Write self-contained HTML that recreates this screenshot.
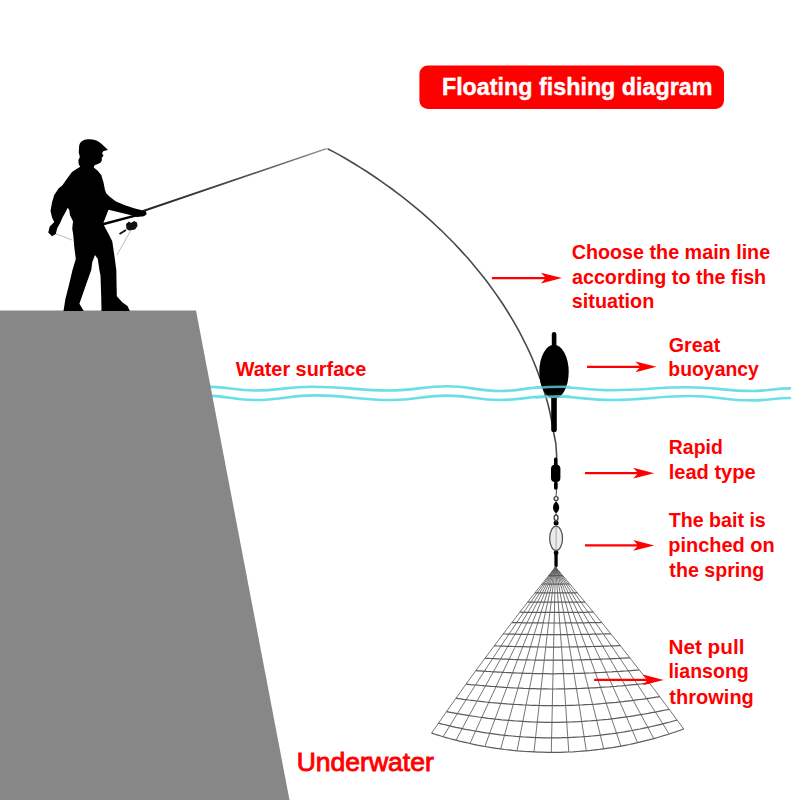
<!DOCTYPE html>
<html><head><meta charset="utf-8">
<style>
html,body{margin:0;padding:0;background:#fff;}
body{width:800px;height:800px;overflow:hidden;position:relative;}
svg{position:absolute;left:0;top:0;}
text{font-family:"Liberation Sans",sans-serif;font-weight:bold;}
</style></head><body>
<svg width="800" height="800" viewBox="0 0 800 800">
<rect width="800" height="800" fill="#fff"/>
<!-- water lines -->
<g fill="none" stroke="#6adfe8" stroke-width="2.6" stroke-linecap="round">
<path d="M205 386.6 C226.0 386.6 234.0 390.5 255 390.5 C278.9 390.5 288.1 386.7 312 386.7 C344.8 386.7 357.2 390.5 390 390.5 C413.9 390.5 423.1 386.3 447 386.3 C469.3 386.3 477.7 391 500 391 C521.0 391 529.0 386.75 550 386.75 C576.0 386.75 586.0 390.2 612 390.2 C643.9 390.2 656.1 387.3 688 387.3 C714.9 387.3 725.1 391 752 391 C768.0 391 774.0 388.4 790 388.4"/>
<path d="M205 395.6 C226.0 395.6 234.0 400 255 400 C280.2 400 289.8 395.4 315 395.4 C347.3 395.4 359.7 400 392 400 C415.1 400 423.9 395.6 447 395.6 C469.3 395.6 477.7 400 500 400 C521.0 400 529.0 396.2 550 396.2 C576.0 396.2 586.0 400 612 400 C644.8 400 657.2 396 690 396 C716.0 396 726.0 400.4 752 400.4 C768.0 400.4 774.0 398 790 398"/>
</g>
<!-- cliff -->
<path d="M0 310.6 L196 310.6 L289.5 800 L0 800 Z" fill="#878787"/>
<!-- rod -->
<defs><linearGradient id="rg" x1="142" y1="211" x2="327" y2="148.6" gradientUnits="userSpaceOnUse"><stop offset="0" stop-color="#222"/><stop offset="0.5" stop-color="#4a4a4a"/><stop offset="1" stop-color="#8a8a8a"/></linearGradient></defs>
<path d="M142.15 210.2 L326.3 148.03 L326.7 149.17 L142.85 212.3 Z" fill="url(#rg)"/>
<path d="M102.5 223 L143.5 212.2 L144 214.6 L103 225.4 Z" fill="#000"/>
<!-- thin lines -->
<path d="M54 233 L72 240 M131 230 L117 255" stroke="#aaa" stroke-width="0.8" fill="none"/>
<!-- reel -->
<path d="M126 224 L129 221.5 L131 223 L134 221 L137 222.5 L137.5 226 L135 229.5 L129 230.5 L126.5 229 Z" fill="#111"/>
<path d="M119.5 234 L126 230" stroke="#111" stroke-width="1.8" fill="none"/>
<!-- fisherman -->
<path fill="#000" d="M79.1 146.5 C79.5 142 83 139.4 88 139.2 C94 139 99 141 102 144.25 L108 149.9 L103.5 151 L102 153.25 L103.5 155.5 L101.6 158.1 L102 160 L100.9 162.25 L99 163.4 L94.5 165.25 L93.75 167.5 L97.5 170.5 L101.25 175 L103.5 182.5 L105 190 L106.25 193.25 L110 197 L116 201.5 L125 205.25 L134 208.25 L141 210 L146 211.3 L146.6 214.2 L144 216.3 L137 216.9 L130.25 215 L108.5 209.75 L103.25 223.25 L104.75 227 L108.5 233.75 L112.25 241.25 L114.3 255 L116.3 270 L116.8 296.3 L122.5 302.5 L127.5 306 L129.8 311 L101.5 311 L101.2 296.3 L100.5 275.7 L99.4 270 L97.8 259.1 L95 255 L92.3 261.9 L91.25 270 L86.8 282.5 L79.4 303.75 L83.75 311 L63.5 311 L65.4 299 L68.9 285.3 L72.5 270 L75.8 259.1 L74.4 248.1 L73.2 234.4 L72.25 228.75 L73 221.25 L70 215.25 L69.25 210 L67.75 207.75 L65.5 212.25 L62.5 217.5 L60.25 222.75 L57.25 228 L55.75 234 L52 236.25 L48.25 232.5 L49.75 226.5 L54.25 222 L52 217.5 L50.5 210.75 L52 202.5 L54.25 195 L58.75 188.25 L62.25 185.5 L67.5 178 L72 172 L76.5 169 L80.25 166.75 L78.75 164.5 L78.4 160 L79.9 157 L78.75 152.5 Z"/>
<!-- fishing line -->
<path d="M327.5 148.7 L333.2 151.6 L338.7 154.6 L344.2 157.8 L349.7 161.0 L355.1 164.3 L360.5 167.6 L365.9 171.0 L371.2 174.5 L376.4 178.0 L381.6 181.6 L386.8 185.3 L392.0 189.0 L397.0 192.8 L402.1 196.7 L407.1 200.6 L412.0 204.6 L416.9 208.6 L421.7 212.7 L426.5 216.9 L431.3 221.2 L435.9 225.5 L440.6 229.8 L445.1 234.2 L449.6 238.7 L454.1 243.3 L458.4 247.9 L462.7 252.6 L467.0 257.3 L471.1 262.1 L475.2 266.9 L479.3 271.9 L483.2 276.8 L487.1 281.8 L490.9 286.9 L494.6 292.1 L498.2 297.3 L501.8 302.5 L505.2 307.8 L508.6 313.2 L511.9 318.6 L515.1 324.1 L518.2 329.6 L521.1 335.2 L524.0 340.8 L526.8 346.5 L529.5 352.2 L532.1 358.0 L534.5 363.8 L536.9 369.7 L539.1 375.7 L541.2 381.6 L543.2 387.7 L545.0 393.8 L546.8 399.9 L548.4 406.0 L549.9 412.3 L551.2 418.5 L552.4 424.8 L553.4 431.2 Q557 445 556.6 458" fill="none" stroke="#4a4a4a" stroke-width="1.6" stroke-linejoin="round"/>
<!-- float -->
<rect x="551.8" y="332" width="4.6" height="16" rx="2.3" fill="#000"/>
<rect x="551.2" y="390" width="5.6" height="42" rx="2.6" fill="#000"/>
<ellipse cx="554" cy="371.8" rx="14.7" ry="27" fill="#000"/>
<!-- water over float -->
<g fill="none" stroke="#6adfe8" stroke-width="2.6" opacity="0.75">
<path d="M535 388 C545 387 555 386.6 570 386.8"/>
<path d="M535 397.6 C545 397 555 396.2 570 396.4"/>
</g>
<!-- sinker assembly -->
<g fill="#000">
<rect x="554" y="457.4" width="3.6" height="9" rx="1.6"/>
<rect x="551" y="464.8" width="9.4" height="17.2" rx="4"/>
<rect x="554" y="481.5" width="3.7" height="8.2" rx="1.6"/>
<path d="M556.1 501.4 C560.2 504.2 560.2 510.6 556.1 513.3 C552 510.6 552 504.2 556.1 501.4 Z"/>
<circle cx="556.1" cy="523" r="2.5"/>
<circle cx="556.1" cy="552.8" r="2.4"/>
<rect x="554.4" y="553" width="3.3" height="14" rx="1.5"/>
</g>
<g fill="none" stroke="#444" stroke-width="1">
<path d="M556.6 489 L556.1 496"/>
<circle cx="556.1" cy="498.6" r="2.0" stroke-width="1.4"/>
<ellipse cx="556.1" cy="517.8" rx="1.9" ry="2.8" stroke-width="1.4"/><path d="M556.1 500.6 L556.1 502 M556.1 513 L556.1 515 M556.1 520.6 L556.1 523"/>
</g>
<ellipse cx="556.1" cy="538.4" rx="6.4" ry="12.2" fill="#ececec" stroke="#555" stroke-width="1.3"/>
<path d="M556.1 527 L556.1 550" stroke="#999" stroke-width="0.8"/>
<!-- net -->
<path d="M555.5 567.0 L538.9 587.8 L522.7 608.5 L506.7 629.3 L491.1 650.0 L475.7 670.8 L460.7 691.6 L446.0 712.3 L431.6 733.1M555.5 567.0 L540.5 588.2 L525.7 609.4 L511.3 630.6 L497.1 651.8 L483.2 673.0 L469.5 694.3 L456.2 715.5 L443.1 736.7M555.5 567.0 L542.2 588.7 L529.1 610.3 L516.3 632.0 L503.7 653.6 L491.4 675.3 L479.4 696.9 L467.5 718.6 L456.0 740.2M555.5 567.0 L544.1 589.1 L532.8 611.1 L521.8 633.2 L511.0 655.3 L500.4 677.3 L490.1 699.4 L479.9 721.5 L470.0 743.5M555.5 567.0 L546.1 589.4 L536.8 611.9 L527.7 634.3 L518.8 656.7 L510.1 679.2 L501.5 701.6 L493.1 724.1 L484.9 746.5M555.5 567.0 L548.2 589.7 L541.0 612.5 L533.9 635.2 L527.0 658.0 L520.2 680.7 L513.5 703.5 L507.0 726.2 L500.7 748.9M555.5 567.0 L550.4 590.0 L545.3 612.9 L540.4 635.9 L535.5 658.9 L530.8 681.9 L526.1 704.8 L521.6 727.8 L517.1 750.8M555.5 567.0 L552.6 590.1 L549.8 613.2 L547.0 636.4 L544.3 659.5 L541.7 682.6 L539.1 705.7 L536.5 728.8 L534.0 751.9M555.5 567.0 L554.9 590.2 L554.4 613.3 L553.8 636.5 L553.3 659.7 L552.8 682.8 L552.3 706.0 L551.8 729.2 L551.3 752.4M555.5 567.0 L557.3 590.1 L559.0 613.2 L560.7 636.4 L562.4 659.5 L564.1 682.6 L565.7 705.7 L567.2 728.9 L568.8 752.0M555.5 567.0 L559.6 590.0 L563.7 612.9 L567.6 635.9 L571.5 658.9 L575.3 681.9 L579.1 704.8 L582.7 727.8 L586.3 750.8M555.5 567.0 L562.0 589.7 L568.3 612.5 L574.5 635.2 L580.6 657.9 L586.5 680.6 L592.4 703.4 L598.1 726.1 L603.7 748.8M555.5 567.0 L564.2 589.4 L572.8 611.8 L581.2 634.2 L589.5 656.5 L597.6 678.9 L605.5 701.3 L613.3 723.7 L620.9 746.1M555.5 567.0 L566.5 589.0 L577.3 610.9 L587.8 632.9 L598.2 654.8 L608.4 676.8 L618.3 698.7 L628.1 720.7 L637.6 742.7M555.5 567.0 L568.6 588.4 L581.5 609.9 L594.2 631.3 L606.6 652.8 L618.8 674.2 L630.7 695.7 L642.3 717.1 L653.8 738.6M555.5 567.0 L570.7 587.9 L585.6 608.7 L600.3 629.6 L614.6 650.5 L628.7 671.4 L642.5 692.2 L656.0 713.1 L669.2 734.0M555.5 567.0 L572.6 587.3 L589.5 607.5 L606.0 627.8 L622.2 648.0 L638.0 668.3 L653.6 688.5 L668.8 708.8 L683.7 729.0" fill="none" stroke="#5c5c5c" stroke-width="0.85"/><path d="M548.5 575.7 L548.7 575.7 L548.9 575.7 L549.1 575.7 L549.3 575.7 L549.5 575.7 L549.7 575.7 L549.9 575.7 L550.1 575.7 L550.3 575.7 L550.5 575.7 L550.7 575.7 L551.0 575.7 L551.2 575.7 L551.4 575.7 L551.6 575.7 L551.8 575.7 L552.0 575.7 L552.2 575.7 L552.5 575.7 L552.7 575.7 L552.9 575.7 L553.1 575.7 L553.3 575.7 L553.5 575.7 L553.8 575.7 L554.0 575.7 L554.2 575.7 L554.4 575.7 L554.6 575.7 L554.8 575.7 L555.1 575.7 L555.3 575.7 L555.5 575.7 L555.7 575.7 L556.0 575.7 L556.2 575.7 L556.4 575.7 L556.6 575.7 L556.8 575.7 L557.1 575.7 L557.3 575.7 L557.5 575.7 L557.8 575.7 L558.0 575.7 L558.2 575.7 L558.5 575.7 L558.7 575.7 L558.9 575.7 L559.2 575.7 L559.4 575.7 L559.6 575.7 L559.9 575.7 L560.1 575.7 L560.4 575.7 L560.6 575.7 L560.9 575.7 L561.1 575.7 L561.4 575.7 L561.6 575.7 L561.9 575.7 L562.1 575.7 L562.4 575.7 L562.7 575.7 L562.9 575.7M541.9 584.0 L542.2 584.0 L542.6 584.0 L543.0 584.0 L543.4 584.0 L543.8 584.0 L544.2 584.0 L544.6 584.0 L545.0 584.0 L545.4 584.0 L545.8 584.0 L546.2 584.0 L546.6 584.0 L547.1 584.0 L547.5 584.0 L547.9 584.0 L548.3 584.1 L548.7 584.1 L549.1 584.1 L549.6 584.1 L550.0 584.1 L550.4 584.1 L550.8 584.1 L551.3 584.1 L551.7 584.1 L552.1 584.1 L552.5 584.1 L553.0 584.1 L553.4 584.1 L553.8 584.1 L554.2 584.1 L554.7 584.1 L555.1 584.1 L555.5 584.1 L555.9 584.1 L556.4 584.1 L556.8 584.1 L557.2 584.1 L557.7 584.1 L558.1 584.1 L558.6 584.1 L559.0 584.1 L559.5 584.1 L559.9 584.1 L560.4 584.1 L560.8 584.1 L561.3 584.1 L561.7 584.1 L562.2 584.0 L562.6 584.0 L563.1 584.0 L563.6 584.0 L564.0 584.0 L564.5 584.0 L565.0 584.0 L565.5 584.0 L566.0 584.0 L566.5 584.0 L566.9 584.0 L567.4 584.0 L567.9 584.0 L568.4 584.0 L568.9 584.0 L569.4 584.0 L570.0 584.0M534.9 592.9 L535.4 592.9 L536.0 592.9 L536.6 592.9 L537.2 592.9 L537.8 592.9 L538.4 592.9 L539.0 592.9 L539.6 592.9 L540.2 592.9 L540.8 592.9 L541.4 592.9 L542.1 592.9 L542.7 592.9 L543.3 592.9 L544.0 592.9 L544.6 592.9 L545.2 592.9 L545.9 592.9 L546.5 592.9 L547.1 592.9 L547.8 592.9 L548.4 592.9 L549.1 592.9 L549.7 592.9 L550.3 592.9 L551.0 592.9 L551.6 592.9 L552.3 592.9 L552.9 592.9 L553.6 592.9 L554.2 592.9 L554.9 592.9 L555.5 592.9 L556.2 592.9 L556.8 592.9 L557.5 592.9 L558.2 592.9 L558.8 592.9 L559.5 592.9 L560.1 592.9 L560.8 592.9 L561.5 592.9 L562.2 592.9 L562.9 592.9 L563.5 592.9 L564.2 592.9 L564.9 592.9 L565.6 592.9 L566.3 592.9 L567.0 592.9 L567.7 592.9 L568.4 592.9 L569.2 592.9 L569.9 592.9 L570.6 592.9 L571.4 592.9 L572.1 592.9 L572.8 592.9 L573.6 592.9 L574.3 592.9 L575.1 592.9 L575.9 592.9 L576.6 592.9 L577.4 592.9M527.6 602.1 L528.4 602.1 L529.2 602.1 L529.9 602.1 L530.7 602.2 L531.5 602.2 L532.4 602.2 L533.2 602.2 L534.0 602.2 L534.8 602.2 L535.7 602.2 L536.5 602.2 L537.4 602.2 L538.2 602.2 L539.1 602.2 L539.9 602.2 L540.8 602.2 L541.6 602.2 L542.5 602.2 L543.3 602.2 L544.2 602.2 L545.1 602.2 L545.9 602.2 L546.8 602.2 L547.7 602.2 L548.5 602.2 L549.4 602.2 L550.3 602.2 L551.1 602.2 L552.0 602.2 L552.9 602.2 L553.8 602.2 L554.7 602.2 L555.5 602.2 L556.4 602.2 L557.3 602.2 L558.2 602.2 L559.1 602.2 L560.0 602.2 L560.9 602.2 L561.8 602.2 L562.7 602.2 L563.6 602.2 L564.5 602.2 L565.4 602.2 L566.4 602.2 L567.3 602.2 L568.2 602.2 L569.2 602.2 L570.1 602.2 L571.1 602.2 L572.0 602.2 L573.0 602.2 L574.0 602.2 L574.9 602.2 L575.9 602.2 L576.9 602.2 L577.9 602.2 L578.9 602.2 L579.9 602.1 L580.9 602.1 L582.0 602.1 L583.0 602.1 L584.0 602.1 L585.0 602.1M519.8 612.2 L520.8 612.2 L521.7 612.2 L522.8 612.3 L523.8 612.3 L524.8 612.3 L525.8 612.3 L526.9 612.3 L527.9 612.3 L529.0 612.3 L530.1 612.3 L531.1 612.3 L532.2 612.3 L533.3 612.3 L534.4 612.3 L535.5 612.3 L536.6 612.4 L537.7 612.4 L538.8 612.4 L539.9 612.4 L541.0 612.4 L542.1 612.4 L543.2 612.4 L544.3 612.4 L545.4 612.4 L546.6 612.4 L547.7 612.4 L548.8 612.4 L549.9 612.4 L551.0 612.4 L552.2 612.4 L553.3 612.4 L554.4 612.4 L555.5 612.4 L556.7 612.4 L557.8 612.4 L559.0 612.4 L560.1 612.4 L561.3 612.4 L562.4 612.4 L563.6 612.4 L564.7 612.4 L565.9 612.4 L567.1 612.4 L568.3 612.4 L569.4 612.4 L570.6 612.4 L571.8 612.4 L573.0 612.4 L574.3 612.3 L575.5 612.3 L576.7 612.3 L577.9 612.3 L579.2 612.3 L580.4 612.3 L581.7 612.3 L583.0 612.3 L584.2 612.3 L585.5 612.3 L586.8 612.2 L588.1 612.2 L589.4 612.2 L590.7 612.2 L592.0 612.2 L593.3 612.2M511.8 622.6 L513.0 622.6 L514.2 622.6 L515.4 622.7 L516.6 622.7 L517.9 622.7 L519.2 622.7 L520.4 622.7 L521.7 622.7 L523.0 622.8 L524.3 622.8 L525.7 622.8 L527.0 622.8 L528.3 622.8 L529.6 622.8 L531.0 622.8 L532.3 622.9 L533.7 622.9 L535.0 622.9 L536.4 622.9 L537.7 622.9 L539.1 622.9 L540.4 622.9 L541.8 622.9 L543.2 622.9 L544.5 623.0 L545.9 623.0 L547.3 623.0 L548.6 623.0 L550.0 623.0 L551.4 623.0 L552.8 623.0 L554.2 623.0 L555.6 623.0 L556.9 623.0 L558.3 623.0 L559.7 623.0 L561.2 623.0 L562.6 623.0 L564.0 623.0 L565.4 622.9 L566.8 622.9 L568.3 622.9 L569.7 622.9 L571.2 622.9 L572.6 622.9 L574.1 622.9 L575.5 622.9 L577.0 622.9 L578.5 622.8 L580.0 622.8 L581.5 622.8 L583.0 622.8 L584.5 622.8 L586.0 622.8 L587.6 622.7 L589.1 622.7 L590.7 622.7 L592.2 622.7 L593.8 622.6 L595.4 622.6 L597.0 622.6 L598.6 622.6 L600.2 622.6 L601.8 622.5M503.1 634.0 L504.6 634.0 L506.0 634.0 L507.4 634.1 L508.9 634.1 L510.4 634.1 L511.9 634.2 L513.5 634.2 L515.0 634.2 L516.5 634.2 L518.1 634.3 L519.7 634.3 L521.3 634.3 L522.8 634.4 L524.4 634.4 L526.0 634.4 L527.6 634.4 L529.3 634.5 L530.9 634.5 L532.5 634.5 L534.1 634.5 L535.8 634.5 L537.4 634.6 L539.0 634.6 L540.7 634.6 L542.3 634.6 L543.9 634.6 L545.6 634.6 L547.2 634.6 L548.9 634.6 L550.6 634.6 L552.2 634.7 L553.9 634.7 L555.6 634.7 L557.2 634.7 L558.9 634.6 L560.6 634.6 L562.3 634.6 L564.0 634.6 L565.7 634.6 L567.4 634.6 L569.1 634.6 L570.8 634.6 L572.6 634.5 L574.3 634.5 L576.1 634.5 L577.8 634.5 L579.6 634.5 L581.3 634.4 L583.1 634.4 L584.9 634.4 L586.7 634.3 L588.5 634.3 L590.3 634.3 L592.2 634.2 L594.0 634.2 L595.8 634.2 L597.7 634.1 L599.5 634.1 L601.4 634.0 L603.3 634.0 L605.2 633.9 L607.1 633.9 L609.0 633.9 L610.9 633.8M494.2 645.9 L495.8 645.9 L497.5 646.0 L499.2 646.0 L500.9 646.1 L502.6 646.1 L504.4 646.2 L506.2 646.3 L508.0 646.3 L509.8 646.4 L511.6 646.4 L513.4 646.5 L515.3 646.5 L517.1 646.6 L519.0 646.6 L520.9 646.7 L522.8 646.7 L524.6 646.7 L526.5 646.8 L528.4 646.8 L530.3 646.9 L532.3 646.9 L534.2 646.9 L536.1 646.9 L538.0 647.0 L540.0 647.0 L541.9 647.0 L543.8 647.0 L545.8 647.0 L547.7 647.1 L549.7 647.1 L551.6 647.1 L553.6 647.1 L555.6 647.1 L557.5 647.1 L559.5 647.1 L561.5 647.0 L563.5 647.0 L565.5 647.0 L567.5 647.0 L569.5 647.0 L571.5 646.9 L573.6 646.9 L575.6 646.9 L577.6 646.9 L579.7 646.8 L581.7 646.8 L583.8 646.7 L585.9 646.7 L588.0 646.6 L590.1 646.6 L592.2 646.5 L594.3 646.5 L596.4 646.4 L598.5 646.3 L600.7 646.3 L602.8 646.2 L605.0 646.1 L607.1 646.1 L609.3 646.0 L611.5 645.9 L613.7 645.8 L615.9 645.8 L618.1 645.7 L620.3 645.6M485.0 658.2 L486.8 658.3 L488.7 658.4 L490.6 658.5 L492.6 658.6 L494.6 658.7 L496.6 658.8 L498.6 658.9 L500.7 659.0 L502.7 659.1 L504.8 659.2 L506.9 659.2 L509.1 659.3 L511.2 659.4 L513.3 659.5 L515.5 659.6 L517.7 659.6 L519.8 659.7 L522.0 659.8 L524.2 659.8 L526.4 659.9 L528.6 659.9 L530.8 660.0 L533.1 660.0 L535.3 660.1 L537.5 660.1 L539.8 660.1 L542.0 660.2 L544.2 660.2 L546.5 660.2 L548.8 660.2 L551.0 660.2 L553.3 660.2 L555.6 660.2 L557.9 660.2 L560.2 660.2 L562.5 660.2 L564.8 660.2 L567.1 660.1 L569.4 660.1 L571.7 660.1 L574.1 660.0 L576.4 660.0 L578.7 659.9 L581.1 659.9 L583.5 659.8 L585.8 659.7 L588.2 659.7 L590.6 659.6 L593.0 659.5 L595.4 659.4 L597.8 659.3 L600.2 659.2 L602.7 659.1 L605.1 659.0 L607.6 658.9 L610.0 658.8 L612.5 658.7 L615.0 658.6 L617.4 658.5 L619.9 658.3 L622.4 658.2 L624.9 658.1 L627.4 657.9 L629.9 657.8M475.8 670.6 L477.9 670.8 L480.0 670.9 L482.2 671.1 L484.3 671.2 L486.6 671.4 L488.8 671.5 L491.1 671.7 L493.4 671.8 L495.7 671.9 L498.1 672.1 L500.4 672.2 L502.8 672.3 L505.2 672.5 L507.6 672.6 L510.1 672.7 L512.5 672.8 L515.0 672.9 L517.4 673.0 L519.9 673.1 L522.4 673.2 L524.9 673.3 L527.4 673.4 L530.0 673.4 L532.5 673.5 L535.0 673.6 L537.6 673.6 L540.1 673.7 L542.7 673.7 L545.3 673.7 L547.8 673.7 L550.4 673.8 L553.0 673.8 L555.6 673.8 L558.2 673.7 L560.8 673.7 L563.4 673.7 L566.0 673.7 L568.7 673.6 L571.3 673.6 L574.0 673.5 L576.6 673.4 L579.3 673.4 L581.9 673.3 L584.6 673.2 L587.3 673.1 L590.0 673.0 L592.7 672.9 L595.4 672.7 L598.1 672.6 L600.8 672.5 L603.5 672.3 L606.2 672.2 L609.0 672.0 L611.7 671.9 L614.5 671.7 L617.2 671.5 L620.0 671.4 L622.8 671.2 L625.5 671.0 L628.3 670.8 L631.1 670.6 L633.8 670.4 L636.6 670.2 L639.4 670.0M466.0 684.1 L468.3 684.3 L470.6 684.6 L473.0 684.8 L475.4 685.0 L477.9 685.2 L480.4 685.5 L482.9 685.7 L485.5 685.9 L488.1 686.1 L490.7 686.3 L493.3 686.5 L496.0 686.7 L498.7 686.9 L501.4 687.1 L504.1 687.3 L506.9 687.5 L509.6 687.7 L512.4 687.8 L515.2 688.0 L518.0 688.1 L520.8 688.2 L523.7 688.4 L526.5 688.5 L529.4 688.6 L532.3 688.7 L535.2 688.7 L538.1 688.8 L541.0 688.9 L543.9 688.9 L546.8 688.9 L549.7 689.0 L552.7 689.0 L555.6 689.0 L558.6 688.9 L561.5 688.9 L564.5 688.9 L567.5 688.8 L570.4 688.7 L573.4 688.7 L576.4 688.6 L579.4 688.5 L582.4 688.3 L585.5 688.2 L588.5 688.1 L591.5 687.9 L594.5 687.8 L597.6 687.6 L600.6 687.4 L603.6 687.2 L606.7 687.0 L609.7 686.8 L612.8 686.5 L615.9 686.3 L618.9 686.0 L622.0 685.8 L625.0 685.5 L628.1 685.2 L631.2 684.9 L634.2 684.6 L637.3 684.3 L640.3 684.0 L643.4 683.7 L646.4 683.4 L649.5 683.1M455.9 698.2 L458.4 698.6 L460.9 698.9 L463.5 699.3 L466.1 699.6 L468.8 700.0 L471.5 700.3 L474.3 700.7 L477.1 701.0 L480.0 701.3 L482.9 701.6 L485.8 702.0 L488.7 702.3 L491.7 702.6 L494.7 702.8 L497.8 703.1 L500.8 703.4 L503.9 703.6 L507.0 703.9 L510.1 704.1 L513.3 704.3 L516.5 704.5 L519.7 704.7 L522.9 704.9 L526.1 705.0 L529.3 705.2 L532.6 705.3 L535.8 705.4 L539.1 705.5 L542.4 705.6 L545.7 705.6 L549.0 705.6 L552.3 705.6 L555.6 705.6 L559.0 705.6 L562.3 705.6 L565.6 705.5 L569.0 705.4 L572.4 705.3 L575.7 705.2 L579.1 705.0 L582.5 704.9 L585.9 704.7 L589.2 704.5 L592.6 704.3 L596.0 704.1 L599.4 703.8 L602.8 703.5 L606.2 703.2 L609.6 702.9 L613.0 702.6 L616.4 702.3 L619.7 701.9 L623.1 701.6 L626.5 701.2 L629.9 700.8 L633.2 700.4 L636.6 699.9 L639.9 699.5 L643.3 699.1 L646.6 698.6 L649.9 698.1 L653.2 697.7 L656.5 697.2 L659.8 696.7M446.5 711.6 L449.1 712.1 L451.8 712.6 L454.6 713.1 L457.4 713.6 L460.2 714.1 L463.2 714.6 L466.1 715.1 L469.2 715.6 L472.3 716.0 L475.4 716.5 L478.5 717.0 L481.8 717.4 L485.0 717.8 L488.3 718.3 L491.6 718.7 L495.0 719.1 L498.3 719.4 L501.8 719.8 L505.2 720.1 L508.7 720.4 L512.2 720.7 L515.7 721.0 L519.2 721.2 L522.8 721.4 L526.4 721.6 L530.0 721.8 L533.6 722.0 L537.3 722.1 L540.9 722.2 L544.6 722.3 L548.2 722.3 L551.9 722.3 L555.6 722.3 L559.3 722.3 L563.1 722.2 L566.8 722.1 L570.5 722.0 L574.2 721.8 L578.0 721.7 L581.7 721.5 L585.5 721.2 L589.2 721.0 L592.9 720.7 L596.7 720.4 L600.4 720.0 L604.2 719.6 L607.9 719.3 L611.6 718.8 L615.3 718.4 L619.0 717.9 L622.7 717.4 L626.4 716.9 L630.1 716.4 L633.7 715.8 L637.4 715.2 L641.0 714.6 L644.6 714.0 L648.2 713.4 L651.7 712.7 L655.3 712.1 L658.8 711.4 L662.3 710.7 L665.8 710.0 L669.2 709.3M438.4 723.1 L441.1 723.8 L443.9 724.5 L446.8 725.2 L449.7 725.9 L452.7 726.6 L455.8 727.3 L459.0 727.9 L462.1 728.6 L465.4 729.3 L468.7 729.9 L472.1 730.5 L475.5 731.2 L479.0 731.7 L482.5 732.3 L486.1 732.9 L489.7 733.4 L493.3 733.9 L497.0 734.4 L500.7 734.9 L504.5 735.3 L508.3 735.7 L512.1 736.0 L515.9 736.4 L519.8 736.7 L523.7 737.0 L527.6 737.2 L531.6 737.4 L535.6 737.6 L539.6 737.7 L543.6 737.8 L547.6 737.9 L551.6 737.9 L555.7 737.9 L559.7 737.8 L563.8 737.7 L567.8 737.6 L571.9 737.4 L576.0 737.2 L580.1 737.0 L584.1 736.7 L588.2 736.4 L592.3 736.0 L596.3 735.6 L600.4 735.2 L604.4 734.7 L608.5 734.2 L612.5 733.7 L616.5 733.1 L620.5 732.5 L624.5 731.9 L628.4 731.2 L632.3 730.5 L636.2 729.7 L640.1 729.0 L644.0 728.2 L647.8 727.4 L651.6 726.5 L655.4 725.7 L659.1 724.8 L662.8 723.9 L666.4 722.9 L670.1 722.0 L673.6 721.0 L677.1 720.0M431.6 733.1 L434.3 734.0 L437.2 734.9 L440.1 735.8 L443.1 736.7 L446.2 737.6 L449.4 738.5 L452.7 739.3 L456.0 740.2 L459.4 741.1 L462.8 741.9 L466.4 742.7 L470.0 743.5 L473.6 744.3 L477.3 745.1 L481.1 745.8 L484.9 746.5 L488.8 747.2 L492.7 747.8 L496.7 748.4 L500.7 748.9 L504.7 749.5 L508.8 749.9 L512.9 750.4 L517.1 750.8 L521.3 751.1 L525.5 751.5 L529.7 751.7 L534.0 751.9 L538.3 752.1 L542.6 752.2 L547.0 752.3 L551.3 752.4 L555.7 752.3 L560.0 752.3 L564.4 752.1 L568.8 752.0 L573.2 751.8 L577.6 751.5 L581.9 751.2 L586.3 750.8 L590.7 750.4 L595.0 749.9 L599.4 749.4 L603.7 748.8 L608.0 748.2 L612.3 747.6 L616.6 746.8 L620.9 746.1 L625.1 745.3 L629.3 744.5 L633.5 743.6 L637.6 742.7 L641.7 741.7 L645.8 740.7 L649.8 739.7 L653.8 738.6 L657.7 737.5 L661.6 736.3 L665.4 735.2 L669.2 734.0 L672.9 732.8 L676.6 731.5 L680.2 730.3 L683.7 729.0" fill="none" stroke="#5c5c5c" stroke-width="1.2"/>
<!-- title -->
<rect x="419.4" y="65.6" width="304.6" height="43.4" rx="8.5" fill="#ff0000"/>
<text x="441.9" y="94.6" font-size="24.1" fill="#fff" stroke="#fff" stroke-width="0.4" textLength="270.6" lengthAdjust="spacingAndGlyphs">Floating fishing diagram</text>
<!-- labels -->
<g fill="#ff0000"><text x="571.69" y="258.9" font-size="20.8" textLength="198.48" lengthAdjust="spacingAndGlyphs">Choose the main line</text><text x="571.92" y="283.7" font-size="20.8" textLength="194.3" lengthAdjust="spacingAndGlyphs">according to the fish</text><text x="571.8" y="308.3" font-size="20.8" textLength="82.42" lengthAdjust="spacingAndGlyphs">situation</text><text x="668.79" y="351.85" font-size="20.8" textLength="51.45" lengthAdjust="spacingAndGlyphs">Great</text><text x="668.32" y="376.2" font-size="20.8" textLength="90.53" lengthAdjust="spacingAndGlyphs">buoyancy</text><text x="668.8" y="453.85" font-size="20.8" textLength="53.98" lengthAdjust="spacingAndGlyphs">Rapid</text><text x="668.7" y="478.8" font-size="20.8" textLength="86.99" lengthAdjust="spacingAndGlyphs">lead type</text><text x="668.68" y="527.2" font-size="20.8" textLength="97.13" lengthAdjust="spacingAndGlyphs">The bait is</text><text x="668.28" y="552.0" font-size="20.8" textLength="106.45" lengthAdjust="spacingAndGlyphs">pinched on</text><text x="669.36" y="576.5" font-size="20.8" textLength="94.95" lengthAdjust="spacingAndGlyphs">the spring</text><text x="668.41" y="653.6" font-size="20.8" textLength="76.06" lengthAdjust="spacingAndGlyphs">Net pull</text><text x="668.43" y="678.4" font-size="20.8" textLength="80.37" lengthAdjust="spacingAndGlyphs">liansong</text><text x="669.36" y="703.6" font-size="20.8" textLength="84.48" lengthAdjust="spacingAndGlyphs">throwing</text><text x="235.68" y="376.4" font-size="20.9" textLength="130.59" lengthAdjust="spacingAndGlyphs">Water surface</text><text x="296.7" y="771.25" font-size="26.4" textLength="137.14" lengthAdjust="spacingAndGlyphs" style="font-weight:normal" stroke="#ff0000" stroke-width="0.9">Underwater</text></g>
<!-- arrows -->
<g fill="#ff0000"><path d="M491.9 276.95 L546.9 276.95 L546.9 279.25 L491.9 279.25 Z M561.9 278.1 L540.9 283.5 L545.9 278.1 L540.9 272.70000000000005 Z"/><path d="M587 365.65 L641.5 365.65 L641.5 367.95 L587 367.95 Z M656.5 366.8 L635.5 372.2 L640.5 366.8 L635.5 361.40000000000003 Z"/><path d="M585 472.05 L639.2 472.05 L639.2 474.35 L585 474.35 Z M654.2 473.2 L633.2 478.59999999999997 L638.2 473.2 L633.2 467.8 Z"/><path d="M585 544.25 L639.2 544.25 L639.2 546.55 L585 546.55 Z M654.2 545.4 L633.2 550.8 L638.2 545.4 L633.2 540.0 Z"/><path d="M594.2 678.75 L648.7 678.75 L648.7 681.05 L594.2 681.05 Z M663.7 679.9 L642.7 685.3 L647.7 679.9 L642.7 674.5 Z"/></g>
</svg>
</body></html>
